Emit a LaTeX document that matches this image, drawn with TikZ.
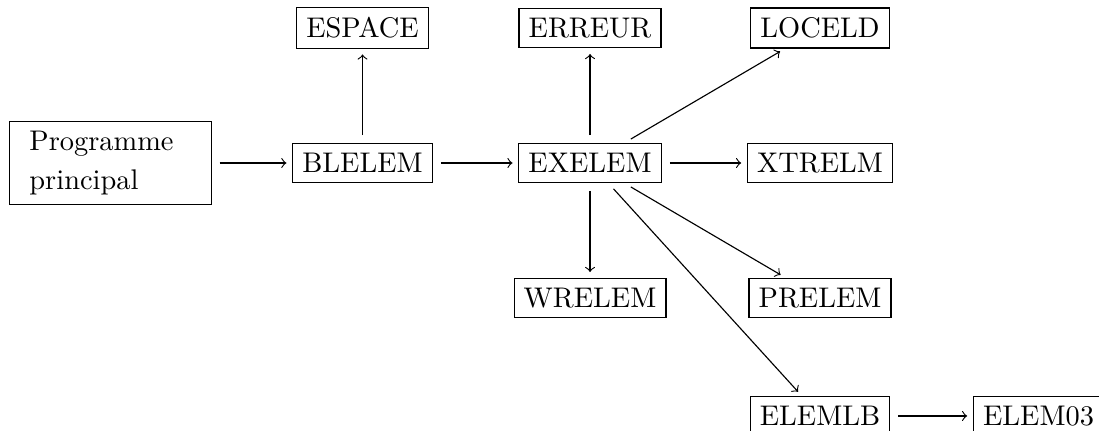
\documentclass[tikz,border=0pt]{standalone}
\usetikzlibrary{positioning}
\tikzset{
  box/.style  = {draw, inner sep=3.4pt},
  pbox/.style = {box, text width=57pt, inner xsep=7pt, align=left},
  arr/.style  = {-to, shorten <=2.8pt, shorten >=2pt},
}
\begin{document}
\begin{tikzpicture}[on grid]

  % frame of the picture
  \useasboundingbox (-4.486,-3.316) rectangle (9.113,2.017);

  % main chain
  \node[box] (blelem) {BLELEM};
  \node[pbox, left=3.12cm of blelem] (prog) {Programme\\[1.6pt]principal};
  \node[box, right=2.815cm of blelem] (exelem) {EXELEM};
  \node[box, right=2.846cm of exelem] (xtrelm) {XTRELM};

  % top row
  \node[box, above=1.67cm of blelem] (espace) {ESPACE};
  \node[box, above=1.67cm of exelem] (erreur) {ERREUR};
  \node[box, above=1.67cm of xtrelm] (loceld) {LOCELD};

  % lower rows
  \node[box, below=1.67cm of exelem] (wrelem) {WRELEM};
  \node[box, below=1.67cm of xtrelm] (prelem) {PRELEM};
  \node[box, below=1.46cm of prelem] (elemlb) {ELEMLB};
  \node[box, right=2.704cm of elemlb] (elem03) {ELEM03};

  \draw[arr] (prog) -- (blelem);
  \draw[arr] (blelem) -- (espace);
  \draw[arr] (blelem) -- (exelem);
  \draw[arr] (exelem) -- (erreur);
  \draw[arr] (exelem) -- (loceld);
  \draw[arr] (exelem) -- (xtrelm);
  \draw[arr] (exelem) -- (wrelem);
  \draw[arr] (exelem) -- (prelem);
  \draw[arr] (exelem) -- (elemlb);
  \draw[arr] (elemlb) -- (elem03);

\end{tikzpicture}
\end{document}
